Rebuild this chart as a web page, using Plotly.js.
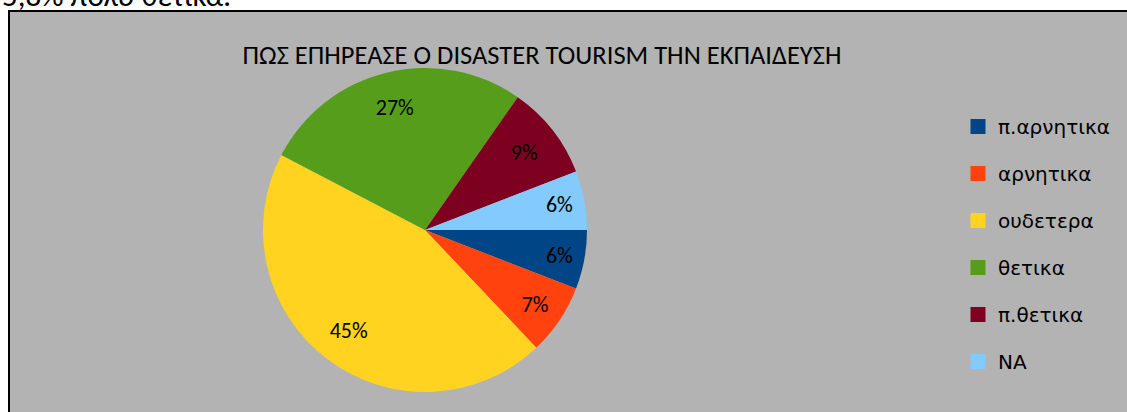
<!DOCTYPE html>
<html>
<head>
<meta charset="utf-8">
<script src="https://cdn.plot.ly/plotly-3.0.1.min.js"></script>
<style>html,body{margin:0;padding:0;background:#fff;}#chart{width:1127px;height:412px;}</style>
</head>
<body>
<div id="chart"></div>
<script>
const categories = ['π.αρνητικα', 'αρνητικα', 'ουδετερα', 'θετικα', 'π.θετικα', 'NA'];
const counts = [5, 6, 38, 23, 8, 5];
const colors = ['#004586', '#ff420e', '#ffd320', '#579d1c', '#7e0021', '#83caff'];
const chartTitle = 'ΠΩΣ ΕΠΗΡΕΑΣΕ Ο DISASTER TOURISM ΤΗΝ ΕΚΠΑΙΔΕΥΣΗ';
const topText = '5,8% πολύ θετικά.';

const W = 1127, H = 412;
const labelFont = 'Carlito, Lato, "Noto Sans", sans-serif';
const pieDomain = {x: [263 / W, 587 / W], y: [1 - 392 / H, 1 - 68 / H]};

const traces = [{
  type: 'pie',
  labels: categories,
  values: counts,
  sort: false,
  direction: 'clockwise',
  rotation: 90,
  marker: {colors: colors, line: {width: 0}},
  textinfo: 'none',
  showlegend: false,
  hoverinfo: 'label+percent',
  domain: pieDomain
}, {
  // transparent ring used only to place the percentage labels at ~0.78 R
  type: 'pie',
  labels: categories,
  values: counts,
  sort: false,
  direction: 'clockwise',
  rotation: 90,
  hole: 0.56,
  marker: {colors: categories.map(() => 'rgba(0,0,0,0)'), line: {width: 0}},
  texttemplate: '%{percent:.0%}',
  textposition: 'inside',
  insidetextorientation: 'horizontal',
  textfont: {family: labelFont, size: 22, color: '#000'},
  showlegend: false,
  hoverinfo: 'skip',
  domain: pieDomain
}];

categories.forEach((c, i) => {
  traces.push({
    type: 'scatter', mode: 'markers', x: [null], y: [null],
    name: c, legendgroup: 'g' + i, showlegend: true,
    marker: {symbol: 'square', size: 15, color: colors[i]}
  });
});

const layout = {
  width: W, height: H,
  margin: {l: 0, r: 0, t: 0, b: 0},
  paper_bgcolor: '#ffffff',
  plot_bgcolor: 'rgba(0,0,0,0)',
  xaxis: {visible: false, domain: [0, 1]},
  yaxis: {visible: false, domain: [0, 1]},
  title: {
    text: chartTitle, x: 542 / W, xanchor: 'center', xref: 'paper',
    y: 1 - 55 / H, yanchor: 'middle', yref: 'paper',
    font: {family: labelFont, size: 26.5, color: '#000'}
  },
  legend: {
    x: 958 / W, xanchor: 'left', y: 1 - 107 / H, yanchor: 'top',
    bgcolor: 'rgba(0,0,0,0)', traceorder: 'grouped', tracegroupgap: 18,
    font: {family: 'DejaVu Sans, sans-serif', size: 20, color: '#000'},
    itemwidth: 30
  },
  shapes: [{
    type: 'rect', xref: 'paper', yref: 'paper', layer: 'below',
    x0: 9 / W, x1: 1.05, y0: -0.05, y1: 1 - 11 / H,
    fillcolor: '#b3b3b3', line: {color: '#000', width: 2}
  }],
  annotations: [{
    text: topText, xref: 'paper', yref: 'paper', x: 0, xanchor: 'left',
    y: 1 - 16 / H, yanchor: 'bottom', showarrow: false,
    font: {family: labelFont, size: 31, color: '#000'}
  }]
};

Plotly.newPlot('chart', traces, layout, {displayModeBar: false, staticPlot: true});
</script>
</body>
</html>
